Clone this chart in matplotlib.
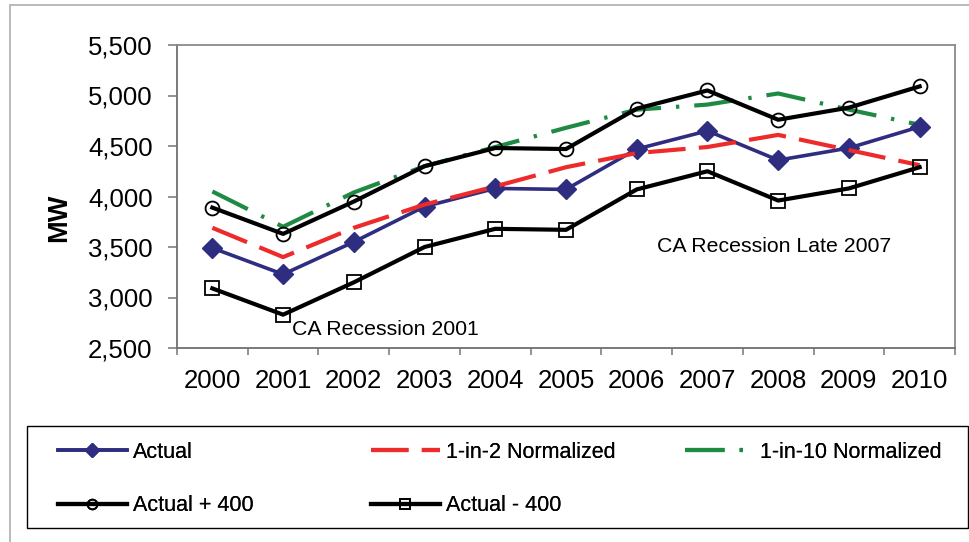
import numpy as np
import matplotlib
matplotlib.use("Agg")
import matplotlib.pyplot as plt
from matplotlib.patches import Rectangle
from matplotlib.ticker import FuncFormatter

plt.rcParams['font.family'] = ['Liberation Sans', 'DejaVu Sans']

years = ["2000", "2001", "2002", "2003", "2004", "2005",
         "2006", "2007", "2008", "2009", "2010"]
actual = [3490, 3230, 3550, 3900, 4080, 4070, 4470, 4650, 4360, 4480, 4690]
norm_1in2 = [3690, 3400, 3690, 3920, 4100, 4290, 4430, 4490, 4610, 4460, 4310]
norm_1in10 = [4050, 3700, 4040, 4300, 4490, 4680, 4860, 4910, 5020, 4860, 4710]
actual_plus = [a + 400 for a in actual]
actual_minus = [a - 400 for a in actual]

navy = "#2E2D80"
red = "#EE2B2B"
green = "#1F8A43"

fig = plt.figure(figsize=(9.7, 5.42), dpi=100)
ax = fig.add_axes([177/970, 1-348/542, (955-177)/970, (348-45)/542])

x = np.arange(len(years))

l_act, = ax.plot(x, actual, color=navy, lw=2.6, marker="D", ms=10,
                 mfc=navy, mec=navy, zorder=3)
l_n2, = ax.plot(x, norm_1in2, color=red, lw=3, dashes=(9, 3.2),
                dash_capstyle="butt", zorder=4)
l_n10, = ax.plot(x, norm_1in10, color=green, lw=3,
                 dashes=(9.5, 3.6, 0.8, 3.6), dash_capstyle="butt", zorder=2)
l_plus, = ax.plot(x, actual_plus, color="black", lw=3, marker="o", ms=10,
                  mfc="none", mec="black", mew=1.3, zorder=5)
l_minus, = ax.plot(x, actual_minus, color="black", lw=3, marker="s", ms=10,
                   mfc="none", mec="black", mew=1.3, zorder=5)

ax.set_xlim(-0.5, len(years) - 0.5)
ax.set_ylim(2500, 5500)
ax.set_yticks(np.arange(2500, 5501, 500))
ax.yaxis.set_major_formatter(FuncFormatter(lambda v, p: f"{int(v):,}"))
ax.set_xticks(x)
ax.set_xticklabels(years)
ax.set_xticks(np.arange(-0.5, len(years)), minor=True)
ax.tick_params(axis="x", which="major", length=0, pad=15, labelsize=18.5)
ax.tick_params(axis="x", which="minor", length=5, width=1.2,
               color="#808080", direction="out")
ax.tick_params(axis="y", length=6.5, width=1.2, color="#808080",
               direction="out", pad=11, labelsize=18.5)
for s in ax.spines.values():
    s.set_color("#8a8a8a")
    s.set_linewidth(1.3)
ax.spines["left"].set_color("#707070")
ax.spines["bottom"].set_color("#707070")

ax.text(1.12, 2680, "CA Recession 2001", fontsize=15.3, va="center", ha="left")
ax.text(6.29, 3500, "CA Recession Late 2007", fontsize=15.3, va="center", ha="left")

fig.text(59/970, 1-218/542, "MW", rotation=90, fontsize=19.5,
         fontweight="bold", ha="center", va="center")

# outer frame (left and top only visible)
fig.patches.append(Rectangle((10/970, -0.2), 1.5, 1.2 - 5/542,
                             transform=fig.transFigure, fill=False,
                             edgecolor="#b4b4b4", lw=1.3))
# legend frame
fig.patches.append(Rectangle((27/970, 1-528/542), (968-27)/970, (528-426)/542,
                             transform=fig.transFigure, fill=False,
                             edgecolor="black", lw=1.0))

leg_kw = dict(frameon=False, fontsize=15.5, handlelength=3.2, handletextpad=0.3,
              borderpad=0, borderaxespad=0, labelspacing=1.5, markerscale=0.7,
              loc="upper left")
cols = [([l_act, l_plus], ["Actual", "Actual + 400"], 58),
        ([l_n2, l_minus], ["1-in-2 Normalized", "Actual - 400"], 371),
        ([l_n10], ["1-in-10 Normalized"], 685)]
for handles, labels, xs in cols:
    lg = fig.legend(handles, labels, bbox_to_anchor=(xs/970, 1-442/542), **leg_kw)
    fig.add_artist(lg)

fig.savefig("out.png", dpi=100)
